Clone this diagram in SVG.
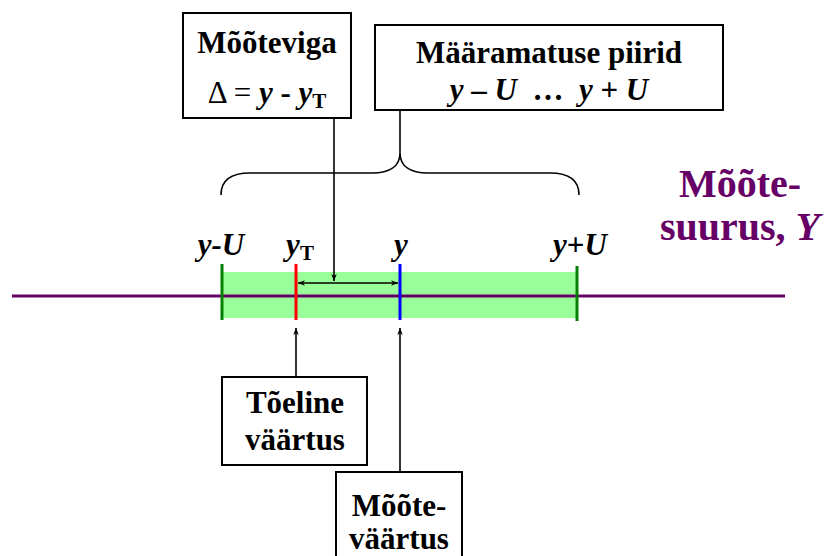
<svg xmlns="http://www.w3.org/2000/svg" width="831" height="556" viewBox="0 0 831 556">
<style>
.box{fill:#fff;stroke:#000;stroke-width:2}
.t{font-family:"Liberation Serif","DejaVu Serif",serif;font-weight:bold;font-size:31px;fill:#000;text-anchor:middle;white-space:pre}
.i{font-style:italic}
.n{font-weight:normal}
.con{fill:none;stroke:#000;stroke-width:1.6}
.big{font-family:"Liberation Serif","DejaVu Serif",serif;font-weight:bold;font-size:40px;fill:#660066;text-anchor:middle}
</style>
<defs>
<marker id="ah" viewBox="0 0 10 10" refX="10" refY="5" markerWidth="7" markerHeight="7" orient="auto-start-reverse" markerUnits="userSpaceOnUse">
<path d="M0,1 L10,5 L0,9 L3,5 Z" fill="#000"/>
</marker>
</defs>
<g id="scale">
<rect x="222" y="272" width="355" height="46" fill="#99ff99"/>
<line x1="12" y1="296" x2="785" y2="296" stroke="#660066" stroke-width="3"/>
<line x1="222" y1="264" x2="222" y2="320" stroke="#008000" stroke-width="3"/>
<line x1="577" y1="266" x2="577" y2="321" stroke="#008000" stroke-width="3"/>
<line x1="296" y1="264" x2="296" y2="320" stroke="#ff0000" stroke-width="3"/>
<line x1="400" y1="264" x2="400" y2="320" stroke="#0000ff" stroke-width="3"/>
<text class="t i" x="221" y="255">y-U</text>
<text class="t" x="300" y="255"><tspan class="i">y</tspan><tspan font-size="21" dy="5">T</tspan></text>
<text class="t i" x="401" y="255">y</text>
<text class="t" x="580" y="255"><tspan class="i">y</tspan>+<tspan class="i">U</tspan></text>
</g>
<g id="quantity">
<text class="big" x="740" y="197">Mõõte-</text>
<text class="big" x="740" y="240">suurus, <tspan font-style="italic">Y</tspan></text>
</g>
<g id="connectors">
<path class="con" d="M221,195 C221,181 230,173 250,173 L372,173 C390,173 400,166 400,153 C400,166 410,173 428,173 L550,173 C570,173 579,181 579,195"/>
<line class="con" x1="400" y1="110" x2="400" y2="153"/>
<line class="con" x1="334" y1="118" x2="334" y2="281" marker-end="url(#ah)"/>
<line class="con" x1="298" y1="283" x2="398" y2="283" marker-start="url(#ah)" marker-end="url(#ah)"/>
<line class="con" x1="296" y1="377" x2="296" y2="328" marker-end="url(#ah)"/>
<line class="con" x1="400" y1="472" x2="400" y2="328" marker-end="url(#ah)"/>
</g>
<g id="viga">
<rect class="box" x="183" y="13" width="168" height="105"/>
<text class="t" x="267" y="53">Mõõteviga</text>
<text class="t" x="267" y="103"><tspan class="n">Δ = </tspan><tspan class="i">y</tspan> - <tspan class="i">y</tspan><tspan font-size="21" dy="5">T</tspan></text>
</g>
<g id="piirid">
<rect class="box" x="375" y="25" width="348" height="85"/>
<text class="t" x="549" y="63">Määramatuse piirid</text>
<text class="t" x="549" y="100" xml:space="preserve"><tspan class="i">y</tspan> – <tspan class="i">U</tspan>  …  <tspan class="i">y</tspan> + <tspan class="i">U</tspan></text>
</g>
<g id="toeline">
<rect class="box" x="222" y="377" width="145" height="88"/>
<text class="t" x="295" y="413">Tõeline</text>
<text class="t" x="295" y="450">väärtus</text>
</g>
<g id="mootevaartus">
<rect class="box" x="336" y="472" width="126" height="100"/>
<text class="t" x="399" y="516">Mõõte-</text>
<text class="t" x="399" y="549">väärtus</text>
</g>
</svg>
